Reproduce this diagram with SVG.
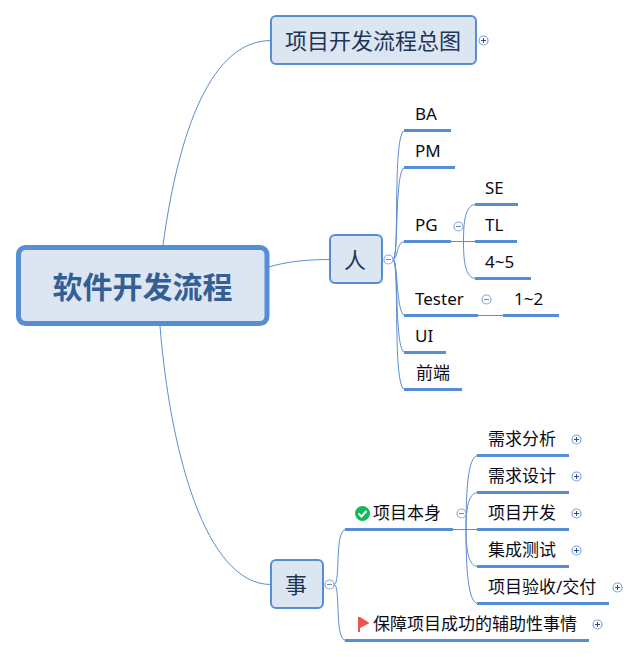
<svg xmlns="http://www.w3.org/2000/svg" width="638" height="657" viewBox="0 0 638 657">
<style>
text{font-family:"Noto Sans","Noto Sans CJK SC",sans-serif;fill:#0b0b16}
.c{fill:none;stroke:#5b8dd3;stroke-width:1}
.u{fill:none;stroke:#558ed5;stroke-width:3}
.b{fill:#dce6f2;stroke:#558ed5;stroke-width:2}
.t{font-size:17px}
.m{font-size:22px;fill:#1f3557}
.cc{fill:#fff;stroke:#86a9de;stroke-width:1.200}
.sg{fill:none;stroke:#6d8cba;stroke-width:1}
.pp{fill:#fff;stroke:#7ba3dc;stroke-width:1.200}
.ps{fill:none;stroke:#2f4f80;stroke-width:1}
</style>
<defs>
<g id="minus"><circle class="cc" r="4.500"/><path class="sg" d="M-2.500 0H2.500"/></g>
<g id="plus"><circle class="pp" r="4.500"/><path class="ps" d="M-2.500 0H2.500M0 -2.500V2.500"/></g>
</defs>
<g id="connectors">
<path class="c" d="M163 245C176 150 205 40.500 271 40.500"/>
<path class="c" d="M269 267C285 262 305 259.500 330 259.500"/>
<path class="c" d="M160 326C170 450 205 584.500 271 584.500"/>
<path class="c" d="M393 259.500C400 259.500 392 130.500 405 130.500"/>
<path class="c" d="M393 259.500C399 259.500 394 167.500 405 167.500"/>
<path class="c" d="M393 259.500C398 259.500 396 241.500 405 241.500"/>
<path class="c" d="M393 259.500C398 259.500 396 315.500 405 315.500"/>
<path class="c" d="M393 259.500C399 259.500 394 352.500 405 352.500"/>
<path class="c" d="M393 259.500C400 259.500 392 389.500 405 389.500"/>
<path class="c" d="M450 241.500H475"/>
<path class="c" d="M463.500 241.500C463.500 222 465 204.500 476 204.500"/>
<path class="c" d="M463.500 241.500C463.500 260 465 278.500 476 278.500"/>
<path class="c" d="M478 315.500H503"/>
<path class="c" d="M334 584.500C341 584.500 334 529.500 346 529.500"/>
<path class="c" d="M334 584.500C341 584.500 334 640.500 346 640.500"/>
<path class="c" d="M453 529.500H478"/>
<path class="c" d="M466 529.500C466 490 468 455.500 478 455.500"/>
<path class="c" d="M466 529.500C466 510 468 492.500 478 492.500"/>
<path class="c" d="M466 529.500C466 548 468 566.500 478 566.500"/>
<path class="c" d="M466 529.500C466 568 468 603.500 478 603.500"/>
</g>
<g id="root"><rect x="18.500" y="247.500" width="248.500" height="76" rx="7" fill="#dce6f2" stroke="#558ed5" stroke-width="5"/><text x="142.500" y="298" text-anchor="middle" font-size="30" font-weight="700" style="fill:#335f96">软件开发流程</text></g>
<g id="overview"><rect class="b" x="271" y="16" width="205" height="48" rx="5"/><text class="m" x="285" y="49">项目开发流程总图</text><use href="#plus" x="483.500" y="40.500"/></g>
<g id="people"><rect class="b" x="330" y="235" width="52" height="48" rx="5"/><text class="m" x="344" y="268">人</text><use href="#minus" x="388.500" y="259.500"/></g>
<g id="things"><rect class="b" x="271" y="560" width="52" height="48" rx="5"/><text class="m" x="285" y="593">事</text><use href="#minus" x="329.500" y="584.500"/></g>
<g id="ba"><path class="u" d="M404 130.500H451"/><text class="t" x="415" y="120">BA</text></g>
<g id="pm"><path class="u" d="M404 167.500H455"/><text class="t" x="415" y="157">PM</text></g>
<g id="pg"><path class="u" d="M404 241.500H451"/><text class="t" x="415" y="231">PG</text><use href="#minus" x="458.500" y="226.500"/></g>
<g id="se"><path class="u" d="M475 204.500H518"/><text class="t" x="485" y="194">SE</text></g>
<g id="tl"><path class="u" d="M475 241.500H517"/><text class="t" x="485" y="231">TL</text></g>
<g id="n45"><path class="u" d="M475 278.500H531"/><text class="t" x="485" y="268">4~5</text></g>
<g id="tester"><path class="u" d="M404 315.500H478"/><text class="t" x="415" y="305">Tester</text><use href="#minus" x="486.500" y="299.500"/></g>
<g id="n12"><path class="u" d="M503 315.500H559"/><text class="t" x="514" y="305">1~2</text></g>
<g id="ui"><path class="u" d="M404 352.500H446"/><text class="t" x="415" y="342">UI</text></g>
<g id="fe"><path class="u" d="M404 389.500H462"/><text class="t" x="416" y="379">前端</text></g>
<g id="self"><path class="u" d="M345 529.500H453"/><circle cx="362.500" cy="513.500" r="7.500" fill="#10b85a"/><path d="M358.500 513.500l3 3 5-5.500" fill="none" stroke="#fff" stroke-width="2"/><text class="t" x="373" y="519">项目本身</text><use href="#minus" x="461.500" y="513.500"/></g>
<g id="a1"><path class="u" d="M477 455.500H569"/><text class="t" x="488" y="445">需求分析</text><use href="#plus" x="576.500" y="439.500"/></g>
<g id="a2"><path class="u" d="M477 492.500H569"/><text class="t" x="488" y="482">需求设计</text><use href="#plus" x="576.500" y="476.500"/></g>
<g id="a3"><path class="u" d="M477 529.500H569"/><text class="t" x="488" y="519">项目开发</text><use href="#plus" x="576.500" y="513.500"/></g>
<g id="a4"><path class="u" d="M477 566.500H569"/><text class="t" x="488" y="556">集成测试</text><use href="#plus" x="576.500" y="550.500"/></g>
<g id="a5"><path class="u" d="M477 603.500H609"/><text class="t" x="488" y="593">项目验收/交付</text><use href="#plus" x="617.500" y="587.500"/></g>
<g id="support"><path class="u" d="M345 640.500H589"/><path d="M358 617h2v15h-2zM360 617l9.500 6-9.500 5z" fill="#ef5350"/><text class="t" x="373" y="630">保障项目成功的辅助性事情</text><use href="#plus" x="597.500" y="624.500"/></g>
</svg>
